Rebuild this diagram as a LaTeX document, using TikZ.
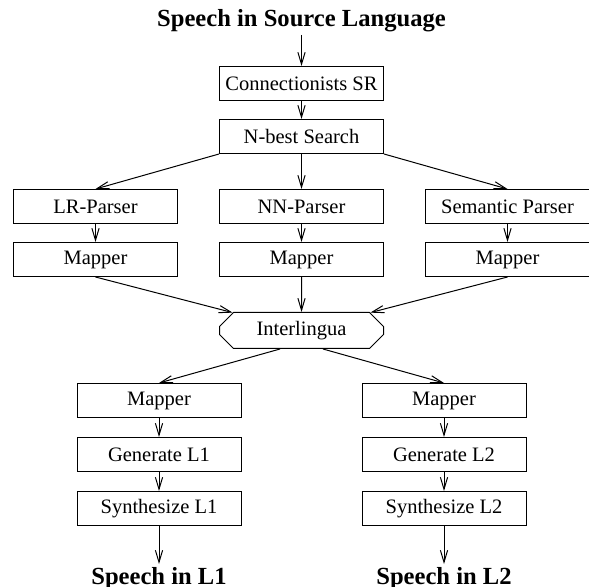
\documentclass[tikz,border=0pt]{standalone}
\usepackage{fontspec}
\setmainfont{Liberation Serif}
\usepackage{tikz}
\usetikzlibrary{shapes.misc, arrows.meta, positioning}

\begin{document}
\begin{tikzpicture}[>={Straight Barb[length=6pt,width=3.6pt]}, line width=0.5pt]
\tikzstyle{module} = [rectangle, draw, minimum width=82pt, minimum height=17pt, inner sep=0pt, font=\fontsize{10.25}{12}\selectfont]
\tikzstyle{hub} = [chamfered rectangle, chamfered rectangle xsep=3.5pt, chamfered rectangle ysep=3.5pt, draw, minimum width=82pt, minimum height=18pt, inner sep=0pt, font=\fontsize{10.25}{12}\selectfont]
\tikzstyle{speech} = [inner sep=1.5pt, font=\fontsize{12.3}{14}\selectfont\bfseries]
\tikzstyle{flow} = [->]

\useasboundingbox (0,0) rectangle (294.5pt,-293.5pt);

\node (csr) [module] at (150.75pt,-41.75pt) {Connectionists SR};
\node (in) [speech, above=15.5pt of csr] {Speech in Source Language};
\node (nb) [module, below=9pt of csr] {N-best Search};

\node (nnp) [module, below=17.5pt of nb] {NN-Parser};
\node (lrp) [module, left=20.5pt of nnp] {LR-Parser};
\node (sp) [module, right=20.5pt of nnp] {Semantic Parser};

\node (nnm) [module, below=9pt of nnp] {Mapper};
\node (lrm) [module, below=9pt of lrp] {Mapper};
\node (spm) [module, below=9pt of sp] {Mapper};

\node (il) [hub, below=17.5pt of nnm] {Interlingua};

\node (m1) [module, below=17pt of il, xshift=-71.25pt] {Mapper};
\node (g1) [module, below=9.5pt of m1] {Generate L1};
\node (s1) [module, below=9.5pt of g1] {Synthesize L1};
\node (o1) [speech, below=19pt of s1] {Speech in L1};

\node (m2) [module, below=17pt of il, xshift=71.25pt] {Mapper};
\node (g2) [module, below=9.5pt of m2] {Generate L2};
\node (s2) [module, below=9.5pt of g2] {Synthesize L2};
\node (o2) [speech, below=19pt of s2] {Speech in L2};

% recognition and search
\draw [flow] (in) -- (csr);
\draw [flow] (csr) -- (nb);
\draw [flow] (nb.south west) -- (lrp.north);
\draw [flow] (nb) -- (nnp);
\draw [flow] (nb.south east) -- (sp.north);

% parsing into the interlingua
\draw [flow] (lrp) -- (lrm);
\draw [flow] (nnp) -- (nnm);
\draw [flow] (sp) -- (spm);
\draw [flow] (lrm.south) -- (il);
\draw [flow] (nnm) -- (il);
\draw [flow] (spm.south) -- (il);

% generation in two languages
\draw [flow] ([xshift=-10.75pt]il.south) -- (m1.north);
\draw [flow] ([xshift=10.75pt]il.south) -- (m2.north);
\draw [flow] (m1) -- (g1);
\draw [flow] (g1) -- (s1);
\draw [flow] (s1) -- (o1);
\draw [flow] (m2) -- (g2);
\draw [flow] (g2) -- (s2);
\draw [flow] (s2) -- (o2);

\end{tikzpicture}
\end{document}
